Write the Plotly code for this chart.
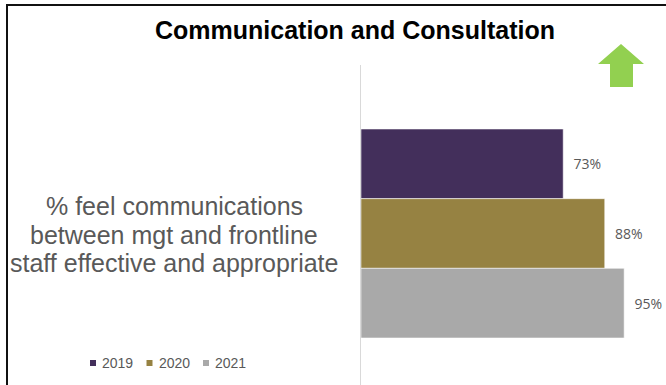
import plotly.graph_objects as go

# Survey results
category = ["communications"]
years = ["2019", "2020", "2021"]
values = [73, 88, 95]
colors = ["#432F5B", "#968242", "#A9A9A9"]

question_lines = [
    "% feel communications",
    "between mgt and frontline",
    "staff effective and appropriate",
]

W, H = 666, 385
TEXT_GREY = "#595959"
SANS = "Arial, Liberation Sans, sans-serif"


def px(x):
    return x / W


def py(y):
    return 1 - y / H


fig = go.Figure()
for year, val, col in zip(years, values, colors):
    fig.add_trace(go.Bar(
        name=year,
        x=[val],
        y=category,
        orientation="h",
        marker=dict(color=col, line=dict(color="rgba(255,255,255,0.55)", width=1)),
        text=[f"{val}%"],
        texttemplate="\u00a0\u00a0%{text}",
        textposition="outside",
        textfont=dict(family="Open Sans, sans-serif", size=14, color=TEXT_GREY),
        cliponaxis=False,
        hoverinfo="skip",
        showlegend=False,
    ))

# Compact key below the question: small colour square followed by the year
for i, (year, col) in enumerate(zip(years, colors)):
    sx = 90 + 56.5 * i
    fig.add_shape(type="rect", xref="paper", yref="paper",
                  x0=px(sx), x1=px(sx + 6), y0=py(366), y1=py(360),
                  fillcolor=col, line=dict(width=0))
    fig.add_annotation(
        text=year, xref="paper", yref="paper",
        x=px(sx + 10), y=py(363), xanchor="left", yanchor="middle",
        showarrow=False, font=dict(family=SANS, size=14, color=TEXT_GREY),
    )

# Question text to the left of the bars, one annotation per line
for i, line in enumerate(question_lines):
    fig.add_annotation(
        text=line, xref="paper", yref="paper",
        x=px(174), y=py(206 + i * 28.7),
        xanchor="center", yanchor="middle", showarrow=False,
        font=dict(family=SANS, size=25, color=TEXT_GREY),
    )

# Frame along the top and left edges
fig.add_shape(type="path", xref="paper", yref="paper",
              path=f"M {px(7)} {py(H)} L {px(7)} {py(5)} L {px(W)} {py(5)}",
              line=dict(color="#111111", width=2))

# Green "improving" arrow
arrow = [(621, 44), (644, 64), (633, 64), (633, 87), (610, 87), (610, 64), (598, 64)]
path = "M " + " L ".join(f"{px(x)} {py(y)}" for x, y in arrow) + " Z"
fig.add_shape(type="path", xref="paper", yref="paper", path=path,
              fillcolor="#92D050", line=dict(width=0))

fig.update_layout(
    width=W, height=H,
    margin=dict(l=0, r=0, t=0, b=0),
    paper_bgcolor="white", plot_bgcolor="white",
    barmode="group", bargap=0.3, bargroupgap=0,
    title=dict(text="<b>Communication and Consultation</b>",
               x=px(355), xanchor="center", y=py(30), yanchor="middle",
               font=dict(family=SANS, size=25, color="#000000")),
    xaxis=dict(domain=[px(361), px(638)], range=[0, 100], visible=False),
    yaxis=dict(domain=[0, py(65)], range=[0.5074, -0.5643],
               showticklabels=False, ticks="", showgrid=False, zeroline=False,
               showline=True, linecolor="#D9D9D9", linewidth=1),
    showlegend=False,
)

fig.write_html("out.html")
